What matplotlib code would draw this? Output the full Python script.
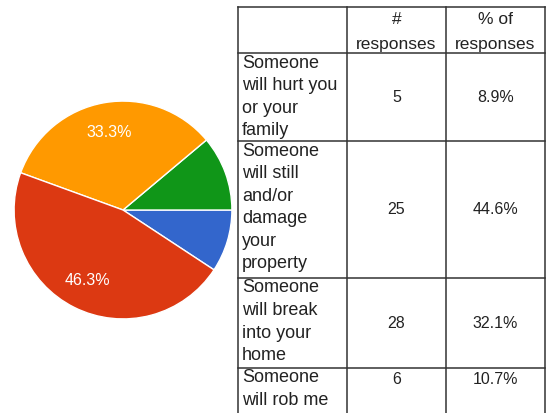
import matplotlib
matplotlib.use('Agg')
import matplotlib.pyplot as plt

plt.rcParams['font.family'] = ['Liberation Sans', 'DejaVu Sans']

# pie slices, counter-clockwise from the lower right
slice_counts = [5, 6, 18, 25]
slice_colors = ['#3366cc', '#109618', '#ff9900', '#dc3912']

# table contents
row_labels = ["Someone\nwill hurt you\nor your\nfamily",
              "Someone\nwill still\nand/or\ndamage\nyour\nproperty",
              "Someone\nwill break\ninto your\nhome",
              "Someone\nwill rob me"]
row_counts = [5, 25, 28, 6]
row_pcts = ["8.9%", "44.6%", "32.1%", "10.7%"]
header = ["", "#\nresponses", "% of\nresponses"]

W, H = 548, 413
fig = plt.figure(figsize=(W / 100, H / 100), dpi=100)

# ---- pie ----
cx, cy, r = 123, 210, 110
pax = fig.add_axes([(cx - r) / W, (H - cy - r) / H, 2 * r / W, 2 * r / H])
total = sum(slice_counts)
angle0 = -360 * slice_counts[0] / total


def pct_label(p):
    return f"{p:.1f}%" if p > 15 else ""


wedges, texts, autotexts = pax.pie(
    slice_counts, colors=slice_colors, startangle=angle0, counterclock=True,
    autopct=pct_label, pctdistance=0.72,
    wedgeprops=dict(edgecolor='white', linewidth=1.0),
    textprops=dict(color='white', fontsize=11.5))
pax.set_xlim(-1.01, 1.01)
pax.set_ylim(-1.01, 1.01)
pax.set_aspect('equal')

# ---- table ----
tax = fig.add_axes([0, 0, 1, 1])
tax.set_xlim(0, W)
tax.set_ylim(H, 0)
tax.axis('off')

col_x = [238, 347, 446, 545]
row_y = [7, 53, 141, 278, 368, 460]
line_kw = dict(color='#333333', linewidth=1.1)
for x in col_x:
    tax.plot([x, x], [row_y[0], row_y[-1]], **line_kw)
for y in row_y[:-1]:
    tax.plot([col_x[0], col_x[-1]], [y, y], **line_kw)

txt_color = '#222222'
for j in (1, 2):
    xc = (col_x[j] + col_x[j + 1]) / 2
    for k, part in enumerate(header[j].split('\n')):
        tax.text(xc, 19 + k * 25, part, ha='center', va='center',
                 fontsize=12.5, color=txt_color)

for i, label in enumerate(row_labels):
    top, bot = row_y[i + 1], row_y[i + 2]
    for k, part in enumerate(label.split('\n')):
        tax.text(col_x[0] + 4, top + 10 + k * 22.6, part, ha='left',
                 va='center', fontsize=13, color=txt_color)
    ymid = (top + bot) / 2 if i < len(row_labels) - 1 else top + 12
    tax.text((col_x[1] + col_x[2]) / 2, ymid, str(row_counts[i]),
             ha='center', va='center', fontsize=11.5, color=txt_color)
    tax.text((col_x[2] + col_x[3]) / 2, ymid, row_pcts[i],
             ha='center', va='center', fontsize=11.5, color=txt_color)

fig.savefig('out.png', dpi=100, facecolor='white')
